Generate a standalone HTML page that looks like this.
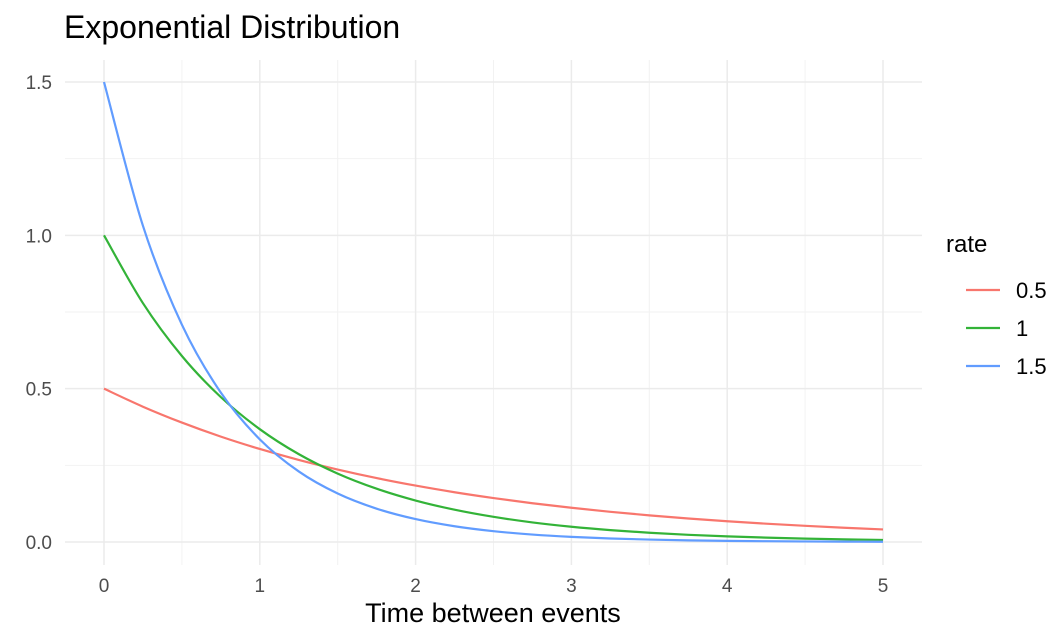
<!DOCTYPE html>
<html><head><meta charset="utf-8"><style>
html,body{margin:0;padding:0;background:#fff;width:1063px;height:628px;overflow:hidden}
svg{display:block;font-family:"Liberation Sans",sans-serif}
</style></head><body>
<svg id="chart" width="1063" height="628">
<text x="64" y="38" font-size="32" fill="#000">Exponential Distribution</text>
<g id="grid"></g><g id="ticks"></g><g id="series"></g>
<text x="493" y="622" font-size="27" text-anchor="middle" fill="#000">Time between events</text>
<g id="legend">
<text x="946" y="252" font-size="24" fill="#000">rate</text>
</g>
</svg>
<script>
const xs=[0,0.25,0.5,0.75,1,1.25,1.5,1.75,2,2.25,2.5,2.75,3,3.25,3.5,3.75,4,4.25,4.5,4.75,5];
const rate05=[0.5,0.4412,0.3894,0.3436,0.3033,0.2676,0.2362,0.2084,0.1839,0.1623,0.1433,0.1264,0.1116,0.0985,0.0869,0.0767,0.0677,0.0597,0.0527,0.0465,0.0410];
const rate1=[1,0.7788,0.6065,0.4724,0.3679,0.2865,0.2231,0.1738,0.1353,0.1054,0.0821,0.0639,0.0498,0.0388,0.0302,0.0235,0.0183,0.0143,0.0111,0.0087,0.0067];
const rate15=[1.5,1.031,0.7086,0.4870,0.3347,0.2301,0.1581,0.1087,0.0747,0.0514,0.0353,0.0243,0.0167,0.0115,0.0079,0.0054,0.0037,0.0026,0.0018,0.0012,0.0008];
const seriesNames=["0.5","1","1.5"];
const colors=["#f8766d","#33b338","#619cff"];
const xTicks=[0,1,2,3,4,5];
const yTicks=[0,0.5,1,1.5];
const yTickLabels=["0.0","0.5","1.0","1.5"];
const NS="http://www.w3.org/2000/svg";
const X=v=>104+v*155.8, Y=v=>542-v*306.67;
const L=65,R=922,T=60,B=565;
function mk(tag,attrs,parent){const e=document.createElementNS(NS,tag);for(const k in attrs)e.setAttribute(k,attrs[k]);parent.appendChild(e);return e;}
const grid=document.getElementById('grid'),ticks=document.getElementById('ticks'),ser=document.getElementById('series'),leg=document.getElementById('legend');
for(let v=0.5;v<5;v+=1){const l=mk('line',{x1:X(v),x2:X(v),y1:T,y2:B,stroke:'#f2f2f2','stroke-width':1},grid);

}
for(let v=0.25;v<1.5;v+=0.5){const l=mk('line',{x1:L,x2:R,y1:Y(v),y2:Y(v),stroke:'#f2f2f2','stroke-width':1},grid);

}
xTicks.forEach(v=>{const l=mk('line',{x1:X(v),x2:X(v),y1:T,y2:B,stroke:'#ebebeb','stroke-width':1.5},grid);


const t=mk('text',{x:X(v),y:592,'font-size':19,'text-anchor':'middle',fill:'#4d4d4d'},ticks);t.textContent=v;

});
yTicks.forEach((v,i)=>{const l=mk('line',{x1:L,x2:R,y1:Y(v),y2:Y(v),stroke:'#ebebeb','stroke-width':1.5},grid);


const t=mk('text',{x:52,y:Y(v)+7,'font-size':19,'text-anchor':'end',fill:'#4d4d4d'},ticks);t.textContent=yTickLabels[i];

});
function pathFor(ys){const p=xs.map((x,i)=>[X(x),Y(ys[i])]);let d='M'+p[0][0]+','+p[0][1];
for(let i=0;i<p.length-1;i++){const p0=p[Math.max(0,i-1)],p1=p[i],p2=p[i+1],p3=p[Math.min(p.length-1,i+2)];
d+=' C'+(p1[0]+(p2[0]-p0[0])/6)+','+(p1[1]+(p2[1]-p0[1])/6)+' '+(p2[0]-(p3[0]-p1[0])/6)+','+(p2[1]-(p3[1]-p1[1])/6)+' '+p2[0]+','+p2[1];}return d;}
[rate05,rate1,rate15].forEach((ys,i)=>{const p=mk('path',{d:pathFor(ys),fill:'none',stroke:colors[i],'stroke-width':2.2},ser);


const y=290+i*38;
const ll=mk('line',{x1:966,x2:1000,y1:y,y2:y,stroke:colors[i],'stroke-width':2.2},leg);


const t=mk('text',{x:1016,y:y+8,'font-size':22,fill:'#000'},leg);t.textContent=seriesNames[i];

});
</script>
</body></html>
